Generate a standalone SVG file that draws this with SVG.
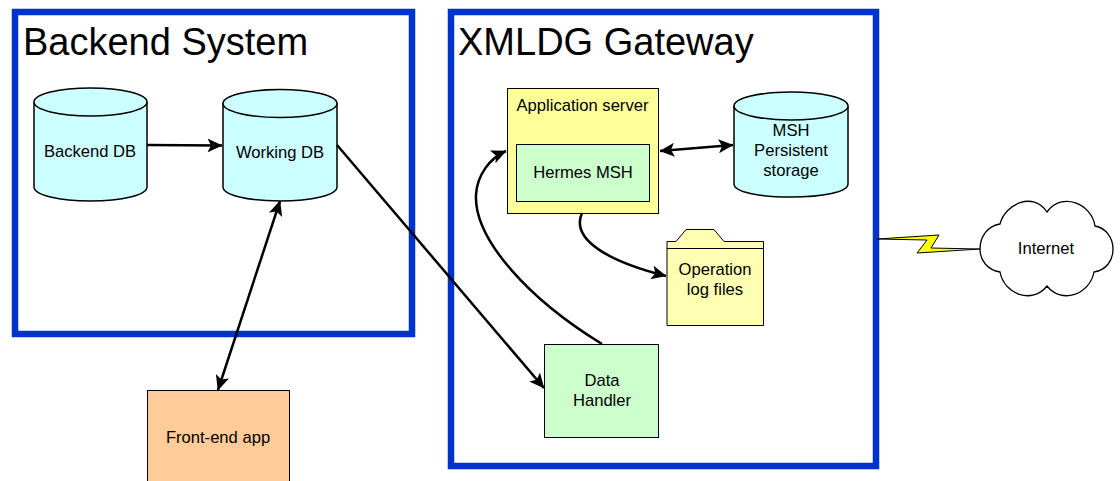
<svg xmlns="http://www.w3.org/2000/svg" width="1120" height="481" viewBox="0 0 1120 481">
<style>
text{font-family:"Liberation Sans",Arial,sans-serif;fill:#000;text-anchor:middle;font-size:16.600px}
.title{font-size:38px;text-anchor:start}
.frame{fill:#fff;stroke:#0033cc;stroke-width:6.5}
.db{fill:#ccffff;stroke:#000;stroke-width:1.5}
.box{stroke:#000;stroke-width:1}
.c{fill:none;stroke:#000;stroke-width:2.500}
</style>
<defs>
<marker id="a" viewBox="0 0 15 14" refX="14.500" refY="7" markerWidth="15" markerHeight="14" markerUnits="userSpaceOnUse" orient="auto-start-reverse"><path d="M0 0L15 7L0 14L3.500 7Z" fill="#000"/></marker>
</defs>
<rect x="0" y="0" width="1120" height="481" fill="#fff"/>
<g id="backend-system"><rect class="frame" x="15" y="12" width="397" height="322"/><text class="title" x="23" y="55">Backend System</text></g>
<g id="xmldg-gateway"><rect class="frame" x="451" y="12" width="425" height="454"/><text class="title" x="458" y="55">XMLDG Gateway</text></g>
<g id="backend-db"><path class="db" d="M34 102V187C34 195 59 201 90.500 201S147 195 147 187V102"/><ellipse class="db" cx="90.500" cy="102" rx="56.500" ry="14"/><text x="90" y="157">Backend DB</text></g>
<g id="working-db"><path class="db" d="M223 103V187C223 195 248 201 280 201S337 195 337 187V103"/><ellipse class="db" cx="280" cy="103.500" rx="57" ry="14"/><text x="280" y="158">Working DB</text></g>
<g id="front-end-app"><rect class="box" x="147.500" y="390.500" width="142" height="95" fill="#ffcc99"/><text x="218" y="443">Front-end app</text></g>
<g id="application-server"><rect class="box" x="507.500" y="88.500" width="151" height="125" fill="#ffff99"/><text x="582.500" y="111">Application server</text></g>
<g id="hermes-msh"><rect class="box" x="516.500" y="144.500" width="133" height="57" fill="#ccffcc"/><text x="583" y="178">Hermes MSH</text></g>
<g id="msh-storage"><path class="db" d="M734 106V184C734 192 759 197 791 197S848 192 848 184V106"/><ellipse class="db" cx="791" cy="106" rx="57" ry="14"/><text x="791" y="136">MSH</text><text x="791" y="156">Persistent</text><text x="791" y="176">storage</text></g>
<g id="operation-log-files"><path class="box" d="M667 241.500H676L686 229.500H714L724 241.500H763.500V325.500H667Z" fill="#ffffb3"/><path class="box" d="M667 248.500H763.500"/><text x="715" y="275">Operation</text><text x="715" y="295">log files</text></g>
<g id="data-handler"><rect class="box" x="544.500" y="344.500" width="114" height="93" fill="#ccffcc"/><text x="602" y="386">Data</text><text x="602" y="406">Handler</text></g>
<g id="internet"><path d="M1000 224C1005 204 1033 191 1047 212C1062 191 1092 204 1095 226C1106 228 1113 238 1113 249C1113 261 1106 270 1094 272C1090 294 1062 305 1047 286C1032 305 1004 294 1000 272C988 270 980 261 980 249C980 236 988 226 1000 224Z" fill="#fff" stroke="#000" stroke-width="1.300"/><text x="1046" y="254">Internet</text></g>
<g id="connectors">
<path class="c" d="M147 145L222 145.500" marker-end="url(#a)"/>
<path class="c" d="M337 145L544 388" marker-end="url(#a)"/>
<path class="c" d="M218 390L280 201" marker-start="url(#a)" marker-end="url(#a)"/>
<path class="c" d="M660 151L733 145" marker-start="url(#a)" marker-end="url(#a)"/>
<path class="c" d="M602 344C530 300 474 240 476 195C477 175 490 158 506 151" marker-end="url(#a)"/>
<path class="c" d="M582 213C570 240 610 262 666 276" marker-end="url(#a)"/>
<path d="M877 239L939 235L931 248L980 249L917 253L927 240Z" fill="#ffff00" stroke="#000" stroke-width="1"/>
</g>
</svg>
